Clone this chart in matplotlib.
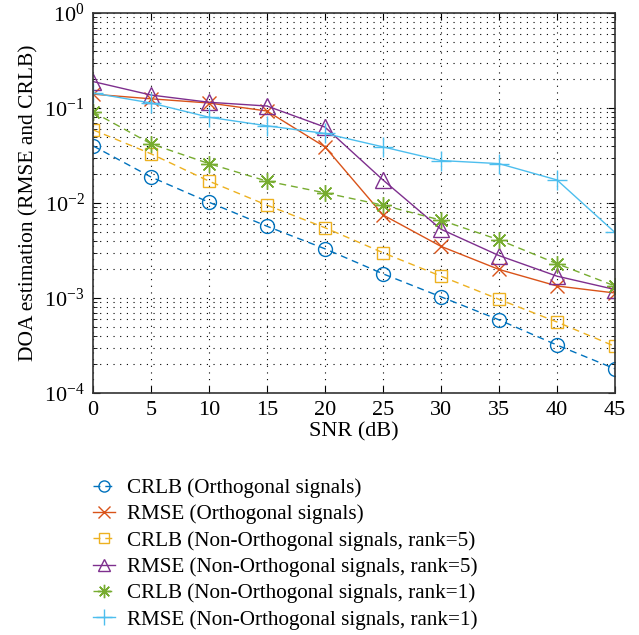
import numpy as np
import matplotlib
matplotlib.use('Agg')
import matplotlib.pyplot as plt

plt.rcParams['font.family'] = 'serif'
plt.rcParams['font.serif'] = ['Liberation Serif', 'DejaVu Serif']
plt.rcParams['mathtext.fontset'] = 'stix'

# SNR values (dB)
snr = [0, 5, 10, 15, 20, 25, 30, 35, 40, 45]

# Curves
crlb_orth = [0.040, 0.0188, 0.0102, 0.0057, 0.0033, 0.0018, 0.00103, 0.00059, 0.00032, 0.00018]
rmse_orth = [0.14, 0.125, 0.113, 0.093, 0.039, 0.0075, 0.0035, 0.0020, 0.00134, 0.00113]
crlb_rank5 = [0.059, 0.033, 0.017, 0.0095, 0.0055, 0.0030, 0.0017, 0.00097, 0.00056, 0.00031]
rmse_rank5 = [0.19, 0.137, 0.115, 0.105, 0.063, 0.0175, 0.0053, 0.0028, 0.0017, 0.00123]
crlb_rank1 = [0.091, 0.042, 0.026, 0.017, 0.0128, 0.0095, 0.0066, 0.0041, 0.0023, 0.00134]
rmse_rank1 = [0.144, 0.113, 0.080, 0.065, 0.054, 0.039, 0.028, 0.026, 0.0175, 0.0049]

labels = ['CRLB (Orthogonal signals)',
          'RMSE (Orthogonal signals)',
          'CRLB (Non-Orthogonal signals, rank=5)',
          'RMSE (Non-Orthogonal signals, rank=5)',
          'CRLB (Non-Orthogonal signals, rank=1)',
          'RMSE (Non-Orthogonal signals, rank=1)']

fig = plt.figure(figsize=(6.39, 6.35), dpi=100)
ax = fig.add_axes([0.1455, 0.381, 0.8169, 0.5985])

asterisk = (8, 2, 0)
dash = (0, (5, 3.5))
styles = [
    (crlb_orth, '#0072BD', 'o', dash, 10),
    (rmse_orth, '#D95319', 'x', '-', 10),
    (crlb_rank5, '#EDB120', 's', dash, 9),
    (rmse_rank5, '#7E2F8E', '^', '-', 11),
    (crlb_rank1, '#77AC30', asterisk, dash, 12),
    (rmse_rank1, '#4DBEEE', '+', '-', 14),
]
for (vals, c, m, ls, ms), lab in zip(styles, labels):
    ax.semilogy(snr, vals, color=c, marker=m, linestyle=ls, lw=1.0,
                markersize=ms, markerfacecolor='none', markeredgewidth=1.0,
                label=lab)

ax.set_xlim(0, 45)
ax.set_ylim(1e-4, 1)
ax.set_xticks(snr)
ax.set_yticks([1e-4, 1e-3, 1e-2, 1e-1, 1])
ax.tick_params(which='both', direction='in', top=True, right=True, labelsize=16)
ax.tick_params(which='major', length=5, pad=6)
ax.tick_params(which='minor', length=3)
ax.xaxis.set_minor_locator(matplotlib.ticker.NullLocator())
ax.grid(True, which='major', color='black', linestyle=(0, (1, 5)), lw=0.8)
ax.grid(True, which='minor', axis='y', color='black', linestyle=(0, (1, 5)), lw=0.8)
for s in ax.spines.values():
    s.set_linewidth(1.2)
    s.set_color('#333333')

ax.set_xlabel('SNR (dB)', fontsize=16, labelpad=1)
ax.set_ylabel('DOA estimation (RMSE and CRLB)', fontsize=15.5, labelpad=4)

fig.legend(loc='upper left', bbox_to_anchor=(0.133, 0.26), frameon=False,
           fontsize=15.2, handlelength=1.0, labelspacing=0.31, handletextpad=0.6,
           markerscale=0.8, borderaxespad=0)

fig.savefig('out.png', dpi=100)
